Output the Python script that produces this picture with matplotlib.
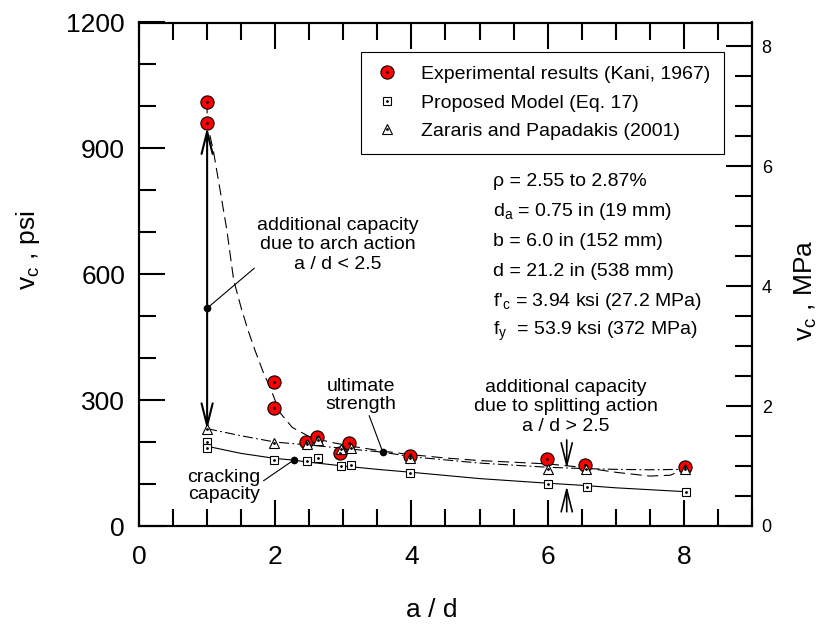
import matplotlib
matplotlib.use("Agg")
import matplotlib.pyplot as plt
from matplotlib.ticker import MultipleLocator
from matplotlib.legend_handler import HandlerTuple

plt.rcParams['font.family'] = ['Liberation Sans', 'DejaVu Sans']
plt.rcParams['mathtext.fontset'] = 'custom'
plt.rcParams['mathtext.rm'] = 'Liberation Sans'
plt.rcParams['mathtext.it'] = 'Liberation Sans:italic'
plt.rcParams['mathtext.default'] = 'regular'

# ---- data (a/d, v_c in psi) ----
ad_exp = [1.0, 1.0, 1.98, 1.98, 2.45, 2.62, 2.95, 3.09, 3.98, 5.99, 6.55, 8.02]
vc_exp = [1010, 960, 344, 282, 201, 213, 175, 199, 167, 159, 145, 140]

ad_model = [1.0, 1.0, 1.98, 2.46, 2.63, 2.96, 3.11, 3.98, 6.0, 6.58, 8.03]
vc_model = [201, 187, 157, 155, 163, 144, 145, 126, 100, 94, 81]

ad_zp = [1.0, 1.98, 2.46, 2.63, 2.96, 3.11, 3.98, 6.0, 6.57, 8.02]
vc_zp = [232, 199, 195, 205, 183, 185, 161, 135, 135, 135]

# trend curves
ad_ult = [1.0, 1.0, 1.09, 1.19, 1.29, 1.39, 1.5, 1.6, 1.7, 1.83, 1.92, 2.07, 2.25, 2.5,
          2.8, 3.2, 3.6, 4.0, 4.5, 5.0, 5.5, 6.0, 6.5, 7.0, 7.5, 7.8, 8.0]
vc_ult = [1010, 960, 896, 801, 705, 586, 520, 467, 420, 364, 332, 270, 235, 213,
          200, 188, 178, 170, 162, 156, 152, 148, 140, 128, 119, 121, 135]

ad_zpc = [1.0, 1.5, 2.0, 2.5, 3.0, 3.58, 4.0, 5.0, 6.0, 6.5, 7.0, 7.5, 8.0]
vc_zpc = [232, 215, 200, 193, 185, 176, 165, 150, 140, 137, 135, 134, 135]

ad_crk = [1.0, 1.5, 2.0, 2.27, 2.5, 3.0, 3.5, 4.0, 5.0, 6.0, 6.5, 7.0, 8.0]
vc_crk = [190, 173, 161, 157, 152, 143, 135, 128, 113, 102, 97, 91, 82]

# annotation points
arch_pt = (1.0, 519)
ult_pt = (3.58, 176)
crk_pt = (2.27, 157)

xticks = [0, 2, 4, 6, 8]
yticks = [0, 300, 600, 900, 1200]
y2ticks = [0, 2, 4, 6, 8]

params = ["ρ = 2.55 to 2.87%",
          "d$_a$ = 0.75 in (19 mm)",
          "b = 6.0 in (152 mm)",
          "d = 21.2 in (538 mm)",
          "f'$_c$ = 3.94 ksi (27.2 MPa)",
          "f$_y$  = 53.9 ksi (372 MPa)"]

fig = plt.figure(figsize=(8.24, 6.28), dpi=100)
ax = fig.add_axes([139/824, 1-526/628, (752-139)/824, (526-22.5)/628])
ax.set_xlim(0, 9)
ax.set_ylim(0, 1200)

# curves
ax.plot(ad_crk, vc_crk, color='black', lw=0.8, zorder=2)
ax.plot(ad_zpc, vc_zpc, color='black', lw=0.8, dashes=(9, 3, 1.5, 3), zorder=2)
ax.plot(ad_ult, vc_ult, color='black', lw=0.8, dashes=(10, 5), zorder=2)

# markers
h1, = ax.plot(ad_exp, vc_exp, ls='none', marker='o', ms=9.5, mfc='red', mec='black', mew=0.8, zorder=4)
h3, = ax.plot(ad_zp, vc_zp, ls='none', marker='^', ms=6.5, mfc='white', mec='black', mew=0.8, zorder=5)
h2, = ax.plot(ad_model, vc_model, ls='none', marker='s', ms=5.5, mfc='white', mec='black', mew=0.8, zorder=6)
for xs, ys in [(ad_exp, vc_exp), (ad_zp, vc_zp), (ad_model, vc_model)]:
    ax.plot(xs, ys, ls='none', marker='o', ms=1.0, color='black', zorder=7)
hd, = ax.plot([], [], ls='none', marker='o', ms=1.0, color='black')

# black dots for annotations
for p in (arch_pt, ult_pt, crk_pt):
    ax.plot(*p, marker='o', ms=4.5, color='black', zorder=7)

# arrows
arr = dict(arrowstyle='<->,head_length=0.8,head_width=0.2', color='black', lw=1.5,
           shrinkA=0, shrinkB=0, mutation_scale=20)
ax.annotate('', xy=(1.0, 950), xytext=(1.0, 229), arrowprops=arr, zorder=3)
arr1 = dict(arrowstyle='->,head_length=0.8,head_width=0.2', color='black', lw=1.2,
            shrinkA=0, shrinkB=0, mutation_scale=20)
ax.annotate('', xy=(6.28, 137), xytext=(6.28, 205), arrowprops=arr1)
ax.annotate('', xy=(6.28, 95), xytext=(6.28, 34), arrowprops=arr1)

fs = 14
ax.annotate("additional capacity\ndue to arch action\na / d < 2.5", xy=arch_pt,
            xytext=(2.92, 670), ha='center', va='center', fontsize=fs,
            arrowprops=dict(arrowstyle='-', color='black', lw=0.8, shrinkA=0, shrinkB=0,
                            relpos=(0.05, 0.25)))
ax.annotate("ultimate\nstrength", xy=ult_pt, xytext=(3.26, 311), ha='center', va='center',
            fontsize=fs, linespacing=1.05,
            arrowprops=dict(arrowstyle='-', color='black', lw=0.8, shrinkA=0, shrinkB=0,
                            relpos=(0.6, 0.0)))
ax.annotate("cracking\ncapacity", xy=crk_pt, xytext=(1.25, 95), ha='center', va='center',
            fontsize=fs, linespacing=1.05,
            arrowprops=dict(arrowstyle='-', color='black', lw=0.8, shrinkA=0, shrinkB=0,
                            relpos=(1.0, 0.6)))
ax.text(6.27, 284, "additional capacity\ndue to splitting action\na / d > 2.5",
        ha='center', va='center', fontsize=fs)

for i, s in enumerate(params):
    ax.text(5.2, 820.5 - i * 71.5, s, ha='left', va='center', fontsize=fs)

# axes styling
ax.set_xticks(xticks)
ax.set_yticks(yticks)
ax.xaxis.set_minor_locator(MultipleLocator(0.5))
ax.yaxis.set_minor_locator(MultipleLocator(100))
ax.tick_params(which='major', direction='in', length=18.5, width=1.5, labelsize=19,
               top=True, right=False)
ax.tick_params(which='minor', direction='in', length=12, width=1.5, top=True, right=False)
ax.tick_params(axis='y', pad=10)
ax.tick_params(axis='x', pad=14)
for sp in ax.spines.values():
    sp.set_linewidth(1.5)

ax2 = ax.twinx()
ax2.set_ylim(0, 8.4)
ax2.set_yticks(y2ticks)
ax2.yaxis.set_minor_locator(MultipleLocator(0.5))
ax2.tick_params(which='major', direction='in', length=18.5, width=1.5, labelsize=13, pad=7)
ax2.tick_params(which='minor', direction='in', length=12, width=1.5)
for sp in ax2.spines.values():
    sp.set_linewidth(1.5)

fig.text(28/824, 1 - 250/628, "v$_c$ , psi", rotation=90, ha='center', va='center', fontsize=19)
fig.text(806/824, 1 - 290/628, "v$_c$ , MPa", rotation=90, ha='center', va='center', fontsize=19)
fig.text(432/824, 1 - 610/628, "a / d", ha='center', va='center', fontsize=19)

leg = ax.legend([(h1, hd), (h2, hd), (h3, hd)],
                ["Experimental results (Kani, 1967)", "Proposed Model (Eq. 17)",
                 "Zararis and Papadakis (2001)"],
                handler_map={tuple: HandlerTuple(ndivide=1)},
                loc='upper right', bbox_to_anchor=((724-139)/613, (526-52)/503.5),
                fontsize=fs, frameon=True, fancybox=False, framealpha=1, edgecolor='black',
                borderpad=0.7, labelspacing=0.56, handlelength=1.3, handletextpad=1.1,
                borderaxespad=0)
leg.get_frame().set_linewidth(0.8)
leg.set_zorder(10)

fig.savefig("out.png", dpi=100)
